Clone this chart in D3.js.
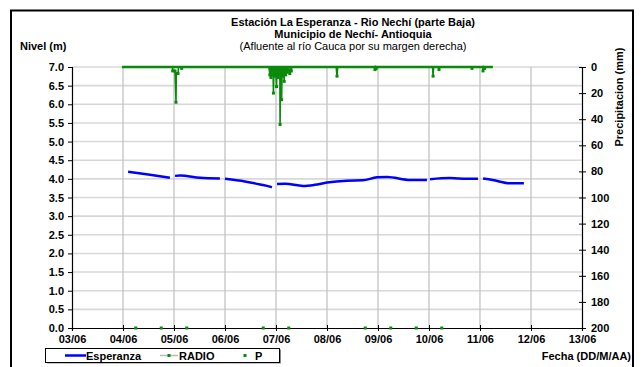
<!DOCTYPE html>
<html><head><meta charset="utf-8">
<script src="https://cdn.jsdelivr.net/npm/d3@7"></script>
<style>
html,body{margin:0;padding:0;background:#fff;}
svg text{font-family:"Liberation Sans",Arial,sans-serif;}
</style></head>
<body>
<svg id="c" width="643" height="367"></svg>
<script>
// ---------- data ----------
const titleLines = ["Estación La Esperanza - Rio Nechí  (parte Baja)", "Municipio de Nechí- Antioquia", "(Afluente al río Cauca por su margen derecha)"];
const dateTicks = ["03/06","04/06","05/06","06/06","07/06","08/06","09/06","10/06","11/06","12/06","13/06"];
const levelTicks = [0,0.5,1,1.5,2,2.5,3,3.5,4,4.5,5,5.5,6,6.5,7];
const precipTicks = [0,20,40,60,80,100,120,140,160,180,200];
// Esperanza level: [day of June, level m]; null = gap
const levelDays =  [4.10,4.53,4.92,null,5.02,5.12,5.51,5.90,null,6.00,6.39,6.69,6.88,6.92,null,7.02,7.18,7.53,7.76,8.00,8.39,8.70,8.98,9.18,9.63,9.96,null,10.02,10.41,10.75,10.96,null,11.06,11.25,11.59,11.86];
const levelVals =  [4.19,4.11,4.03,null,4.08,4.09,4.03,4.01,null,4.00,3.93,3.85,3.79,3.77,null,3.86,3.87,3.81,3.84,3.90,3.95,3.96,4.04,4.05,3.97,3.97,null,3.99,4.02,4.00,4.00,null,4.01,3.97,3.88,3.88];
// RADIO precipitation readings: day of June, mm
const precipDays = [3.98,4.50,4.97,4.975,5.02,5.039,5.045,5.078,5.09,5.14,5.151,5.16,
  6.86,6.88,6.89,6.90,6.91,6.93,6.94,6.95,6.96,6.98,6.99,7.01,7.02,7.04,7.05,7.07,7.075,7.08,7.09,7.10,7.11,7.12,7.14,7.15,7.16,7.17,7.19,7.20,7.22,7.23,7.27,7.28,7.30,7.31,
  8.18,8.196,8.21,8.93,8.941,8.95,8.965,8.975,10.07,10.08,10.09,10.19,10.196,10.21,10.83,10.843,10.85,11.05,11.059,11.07,11.09,11.10,11.25];
const precipVals = [0,0,0,3,3,27,5,5,0,0,1,0,
  0,6,0,8,0,6,0,20,0,7,0,15,0,8,0,6,0,44,0,0,25,0,7,0,11,0,6,0,4,0,5,0,3,0,
  0,7,0,0,2,0,1,0,0,7,0,0,2,0,0,1,0,0,3,0,1,0,0];
// P markers (level 0)
const pDays = [4.25,4.75,5.25,6.75,7.25,8.75,9.25,9.75,10.25];
const pVals = [0,0,0,0,0,0,0,0,0];
const legendNames = ["Esperanza","RADIO","P"];

// ---------- chart ----------
const svg = d3.select("#c");
const L = 72, R = 582, T = 67, B = 328;
const x = d3.scaleLinear().domain([3,13]).range([L,R]);
const y = d3.scaleLinear().domain([0,7]).range([B,T]);
const yp = d3.scaleLinear().domain([0,200]).range([T,B]);
const green = "#0a8a0a", blue = "#0000ff";

// frame
svg.append("rect").attr("x",11).attr("y",10.5).attr("width",622).attr("height",370)
  .attr("fill","none").attr("stroke","#000").attr("stroke-width",2);

// titles
titleLines.forEach((t,i)=>{
  svg.append("text").attr("x",353).attr("y",26+i*12).attr("text-anchor","middle")
    .attr("font-size",11).attr("font-weight",i<2?"bold":"normal").text(t);
});
svg.append("text").attr("x",20).attr("y",50).attr("font-size",11).attr("font-weight","bold").text("Nivel (m)");

// gridlines
svg.append("g").selectAll("line").data(levelTicks.filter(d=>d>0)).join("line")
  .attr("x1",L).attr("x2",R).attr("y1",d=>y(d)).attr("y2",d=>y(d))
  .attr("stroke","#d8d8d8").attr("stroke-width",1.6);
svg.append("g").selectAll("line").data(d3.range(4,13)).join("line")
  .attr("x1",d=>x(d)).attr("x2",d=>x(d)).attr("y1",T).attr("y2",B)
  .attr("stroke","#c4c4c4").attr("stroke-width",1.3);

// axes
const fmt = d3.format(".1f");
const gl = svg.append("g").attr("transform",`translate(${L},0)`)
  .call(d3.axisLeft(y).tickValues(levelTicks).tickFormat(fmt).tickSize(4).tickPadding(4));
const gr = svg.append("g").attr("transform",`translate(${R},0)`)
  .call(d3.axisRight(yp).tickValues(precipTicks).tickSize(4).tickPadding(5));
gr.selectAll(".tick line").attr("x1",-3);
const gb = svg.append("g").attr("transform",`translate(0,${B})`)
  .call(d3.axisBottom(x).tickValues(d3.range(3,14)).tickFormat((d,i)=>dateTicks[i]).tickSize(3).tickPadding(4));
gb.selectAll(".tick line").attr("y1",-3);
[gl,gr,gb].forEach(g=>{
  g.select(".domain").attr("stroke","#000").attr("stroke-width",1.2);
  g.selectAll(".tick line").attr("stroke","#000");
  g.selectAll("text").attr("font-size",11).attr("font-weight","bold").attr("fill","#000")
   .attr("font-family","Liberation Sans, Arial, sans-serif");
});

// precip axis label
svg.append("text").attr("transform","translate(623,97) rotate(-90)").attr("text-anchor","middle")
  .attr("font-size",11).attr("font-weight","bold").text("Precipitacion (mm)");
svg.append("text").attr("x",631).attr("y",360).attr("text-anchor","end")
  .attr("font-size",11).attr("font-weight","bold").text("Fecha (DD/M/AA)");

// RADIO precipitation
const pdata = precipDays.map((d,i)=>({d,v:precipVals[i]}));
svg.append("path").datum(pdata)
  .attr("d",d3.line().x(d=>x(d.d)).y(d=>yp(d.v)))
  .attr("fill","none").attr("stroke",green).attr("stroke-width",1.6);
svg.append("line").attr("x1",x(precipDays[0])).attr("x2",x(precipDays[precipDays.length-1]))
  .attr("y1",yp(0)).attr("y2",yp(0)).attr("stroke",green).attr("stroke-width",2.6);
svg.append("g").selectAll("rect").data(pdata.filter(d=>d.v>0)).join("rect")
  .attr("x",d=>x(d.d)-1.5).attr("y",d=>yp(d.v)-1.5).attr("width",3).attr("height",3).attr("fill",green);

// Esperanza level
const ldata = levelDays.map((d,i)=>({d,v:levelVals[i]}));
svg.append("path").datum(ldata)
  .attr("d",d3.line().defined(d=>d.d!==null&&d.v!==null).x(d=>x(d.d)).y(d=>y(d.v)).curve(d3.curveMonotoneX))
  .attr("fill","none").attr("stroke",blue).attr("stroke-width",2.5);

// P markers
svg.append("g").selectAll("rect").data(pDays.map((d,i)=>({d,v:pVals[i]}))).join("rect")
  .attr("x",d=>x(d.d)-1.5).attr("y",d=>y(d.v)-1.5).attr("width",3).attr("height",3).attr("fill",green);

// legend
const lg = svg.append("g");
lg.append("rect").attr("x",47).attr("y",349.5).attr("width",234).attr("height",14).attr("fill","#888");
lg.append("rect").attr("x",45.5).attr("y",348.5).attr("width",234).attr("height",14).attr("fill","#fff").attr("stroke","#000");
lg.append("line").attr("x1",65).attr("x2",86).attr("y1",355.5).attr("y2",355.5).attr("stroke",blue).attr("stroke-width",2.5);
lg.append("text").attr("x",86).attr("y",359.5).attr("font-size",11).attr("font-weight","bold").text(legendNames[0]);
lg.append("line").attr("x1",160).attr("x2",178).attr("y1",355.5).attr("y2",355.5).attr("stroke","#bbb").attr("stroke-width",1.5);
lg.append("rect").attr("x",167.5).attr("y",354).attr("width",3).attr("height",3).attr("fill",green);
lg.append("text").attr("x",179).attr("y",359.5).attr("font-size",11).attr("font-weight","bold").text(legendNames[1]);
lg.append("rect").attr("x",243.5).attr("y",354).attr("width",3).attr("height",3).attr("fill",green);
lg.append("text").attr("x",255).attr("y",359.5).attr("font-size",11).attr("font-weight","bold").text(legendNames[2]);
</script>
</body></html>
